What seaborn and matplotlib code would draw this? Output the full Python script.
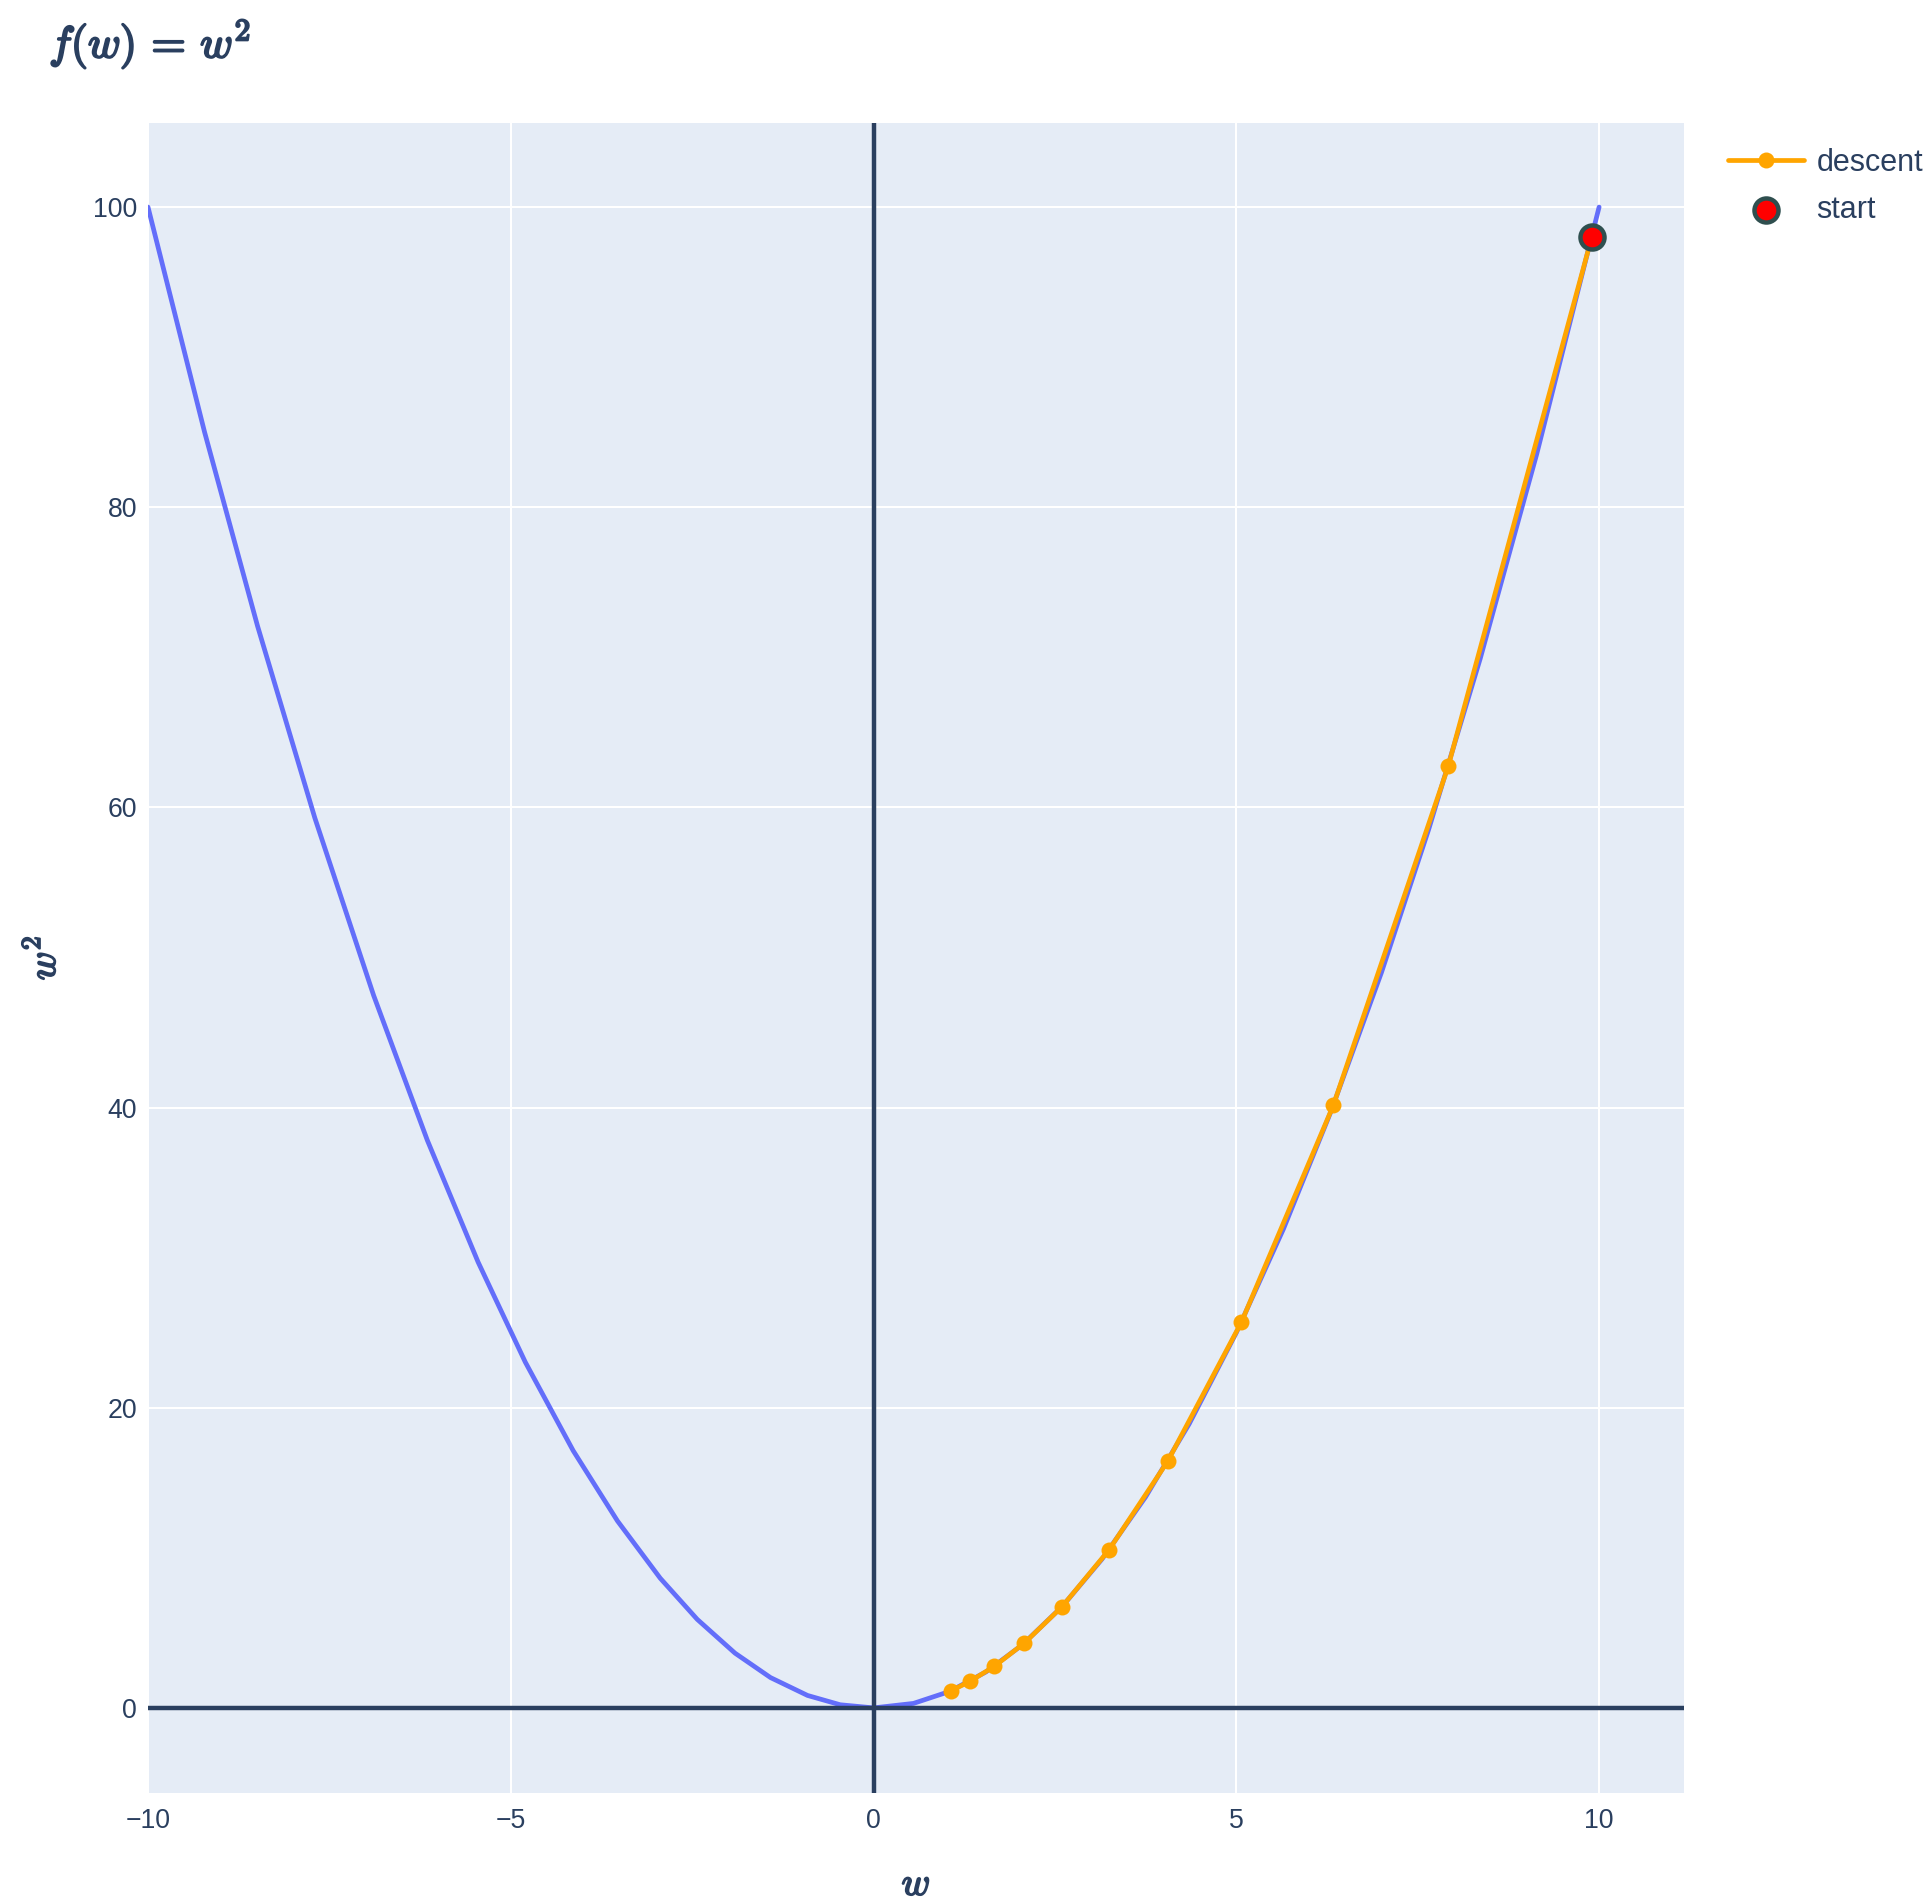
import matplotlib
matplotlib.use("Agg")
import matplotlib.pyplot as plt
import matplotlib.patheffects as pe
import seaborn as sns
import pandas as pd

# ---- data ----
curve_w = [-10.0, -9.22, -8.49, -7.70, -6.89, -6.15, -5.45, -4.80, -4.14, -3.53, -2.94,
           -2.43, -1.91, -1.42, -0.91, -0.46, 0.0, 0.55, 1.05, 1.55, 2.05, 2.60, 3.15,
           3.75, 4.35, 5.00, 5.65, 6.30, 7.00, 7.65, 8.36, 9.14, 10.0]
curve_f = [100.0, 85.0, 72.08, 59.29, 47.47, 37.82, 29.70, 23.04, 17.14, 12.46, 8.64,
           5.90, 3.65, 2.02, 0.83, 0.21, 0.0, 0.30, 1.10, 2.40, 4.20, 6.76, 9.92,
           14.06, 18.92, 25.0, 31.92, 39.69, 49.0, 58.52, 69.89, 83.54, 100.0]

descent_w = [9.9, 7.92, 6.336, 5.069, 4.055, 3.244, 2.595, 2.076, 1.661, 1.329, 1.063]
descent_f = [98.01, 62.73, 40.14, 25.69, 16.44, 10.52, 6.73, 4.31, 2.76, 1.77, 1.13]

start_w = [9.9]
start_f = [98.01]

x_ticks = [-10, -5, 0, 5, 10]
y_ticks = [0, 20, 40, 60, 80, 100]

TEXT = "#2a3f5f"

sns.set_theme(style="darkgrid", rc={
    "axes.facecolor": "#E5ECF6",
    "grid.color": "white",
    "grid.linewidth": 1.44,
    "axes.edgecolor": "#E5ECF6",
})
plt.rcParams["font.family"] = ["Liberation Sans", "DejaVu Sans"]
plt.rcParams["mathtext.fontset"] = "cm"
plt.rcParams["axes.unicode_minus"] = True

fig = plt.figure(figsize=(19.32, 19.02), dpi=100)
ax = fig.add_axes([148 / 1932, 1 - 1793 / 1902, (1684 - 148) / 1932, (1793 - 123) / 1902])

curve_df = pd.DataFrame({"w": curve_w, "f": curve_f})
desc_df = pd.DataFrame({"w": descent_w, "f": descent_f})
start_df = pd.DataFrame({"w": start_w, "f": start_f})

sns.lineplot(data=curve_df, x="w", y="f", ax=ax, sort=False, estimator=None,
             color="#636EFA", linewidth=3.4, zorder=2, legend=False)
sns.lineplot(data=desc_df, x="w", y="f", ax=ax, sort=False, estimator=None,
             color="#FFA500", linewidth=3.4, marker="o", markersize=11.5,
             markeredgewidth=0, zorder=3, label="descent")
ax.axhline(0, color=TEXT, linewidth=3.2, zorder=4)
ax.axvline(0, color=TEXT, linewidth=3.2, zorder=4)
sns.scatterplot(data=start_df, x="w", y="f", ax=ax, color="red", s=300,
                edgecolor="darkslategray", linewidth=3.2, zorder=5, label="start")

ax.set_xlim(-10, 11.17)
ax.set_ylim(-5.67, 105.6)
ax.set_xticks(x_ticks)
ax.set_yticks(y_ticks)
ax.tick_params(axis="both", length=0, labelsize=19.2, labelcolor=TEXT)
ax.tick_params(axis="x", pad=11)
ax.tick_params(axis="y", pad=8)
for s in ax.spines.values():
    s.set_visible(False)

bold = [pe.withStroke(linewidth=1.3, foreground=TEXT)]
ax.set_xlabel(r"$w$", fontsize=28, color=TEXT, va="center", path_effects=bold)
ax.set_ylabel(r"$w^2$", fontsize=28, color=TEXT, va="center", ha="center",
              path_effects=bold)
ax.xaxis.set_label_coords(0.5, -(1885 - 1793) / 1670)
ax.yaxis.set_label_coords(-(148 - 44) / 1536, 0.5)

leg = ax.legend(loc="upper left", bbox_to_anchor=(1728 / 1932, 1 - 148 / 1902),
                bbox_transform=fig.transFigure, frameon=False, fontsize=22,
                handlelength=2.48, handletextpad=0.42, labelspacing=0.55,
                borderpad=0, borderaxespad=0)
for t in leg.get_texts():
    t.set_color(TEXT)

fig.text(49 / 1932, 1 - 44 / 1902, r"$f(w)\,=\,w^2$", fontsize=32, color=TEXT,
         ha="left", va="center", path_effects=[pe.withStroke(linewidth=1.5, foreground=TEXT)])

fig.savefig("out.png", dpi=100, facecolor="white")
